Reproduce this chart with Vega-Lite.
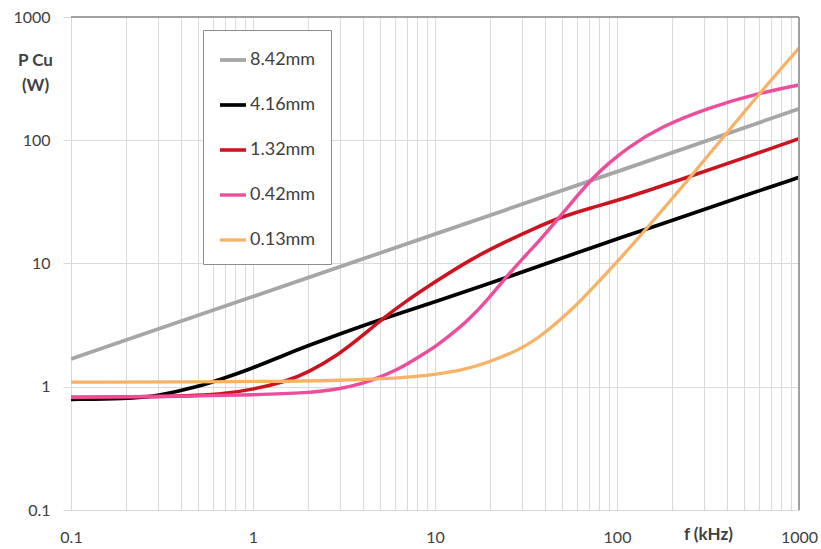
{
  "$schema": "https://vega.github.io/schema/vega-lite/v6.json",
  "autosize": "none",
  "width": 728,
  "height": 493,
  "padding": {"left": 71, "top": 17, "right": 22, "bottom": 39},
  "background": "white",
  "config": {
    "view": {"stroke": null},
    "font": "Lato",
    "axis": {"labelFont": "Lato", "titleFont": "Lato", "labelColor": "#404040", "titleColor": "#404040", "gridColor": "#d9d9d9", "gridWidth": 1}
  },
  "data": {
    "values": [
      {"wire": "8.42mm", "f": 0.1, "p": 1.68},
      {"wire": "8.42mm", "f": 1, "p": 5.4},
      {"wire": "8.42mm", "f": 10, "p": 17.3},
      {"wire": "8.42mm", "f": 100, "p": 55.5},
      {"wire": "8.42mm", "f": 1000, "p": 180},

      {"wire": "4.16mm", "f": 0.1, "p": 0.79},
      {"wire": "4.16mm", "f": 0.2, "p": 0.8},
      {"wire": "4.16mm", "f": 0.3, "p": 0.84},
      {"wire": "4.16mm", "f": 0.5, "p": 1.0},
      {"wire": "4.16mm", "f": 0.7, "p": 1.18},
      {"wire": "4.16mm", "f": 1, "p": 1.42},
      {"wire": "4.16mm", "f": 1.5, "p": 1.82},
      {"wire": "4.16mm", "f": 2, "p": 2.15},
      {"wire": "4.16mm", "f": 3, "p": 2.68},
      {"wire": "4.16mm", "f": 5, "p": 3.5},
      {"wire": "4.16mm", "f": 10, "p": 4.9},
      {"wire": "4.16mm", "f": 25, "p": 7.7},
      {"wire": "4.16mm", "f": 55, "p": 11.7},
      {"wire": "4.16mm", "f": 100, "p": 15.8},
      {"wire": "4.16mm", "f": 250, "p": 25},
      {"wire": "4.16mm", "f": 500, "p": 35.5},
      {"wire": "4.16mm", "f": 1000, "p": 50},

      {"wire": "1.32mm", "f": 0.1, "p": 0.82},
      {"wire": "1.32mm", "f": 0.3, "p": 0.83},
      {"wire": "1.32mm", "f": 0.5, "p": 0.85},
      {"wire": "1.32mm", "f": 0.7, "p": 0.88},
      {"wire": "1.32mm", "f": 1, "p": 0.95},
      {"wire": "1.32mm", "f": 1.5, "p": 1.1},
      {"wire": "1.32mm", "f": 2, "p": 1.3},
      {"wire": "1.32mm", "f": 3, "p": 1.85},
      {"wire": "1.32mm", "f": 4, "p": 2.6},
      {"wire": "1.32mm", "f": 5.2, "p": 3.6},
      {"wire": "1.32mm", "f": 7, "p": 5.0},
      {"wire": "1.32mm", "f": 10, "p": 7.1},
      {"wire": "1.32mm", "f": 16, "p": 11},
      {"wire": "1.32mm", "f": 25, "p": 15.3},
      {"wire": "1.32mm", "f": 35, "p": 19.2},
      {"wire": "1.32mm", "f": 48, "p": 23.5},
      {"wire": "1.32mm", "f": 70, "p": 28},
      {"wire": "1.32mm", "f": 113, "p": 34},
      {"wire": "1.32mm", "f": 243, "p": 50},
      {"wire": "1.32mm", "f": 500, "p": 72},
      {"wire": "1.32mm", "f": 1000, "p": 103},

      {"wire": "0.42mm", "f": 0.1, "p": 0.82},
      {"wire": "0.42mm", "f": 0.5, "p": 0.84},
      {"wire": "0.42mm", "f": 1, "p": 0.86},
      {"wire": "0.42mm", "f": 2, "p": 0.89},
      {"wire": "0.42mm", "f": 3, "p": 0.96},
      {"wire": "0.42mm", "f": 4, "p": 1.06},
      {"wire": "0.42mm", "f": 5, "p": 1.2},
      {"wire": "0.42mm", "f": 6.5, "p": 1.42},
      {"wire": "0.42mm", "f": 8.3, "p": 1.78},
      {"wire": "0.42mm", "f": 10, "p": 2.1},
      {"wire": "0.42mm", "f": 12.6, "p": 2.75},
      {"wire": "0.42mm", "f": 15, "p": 3.4},
      {"wire": "0.42mm", "f": 19.3, "p": 5.0},
      {"wire": "0.42mm", "f": 24.3, "p": 7.6},
      {"wire": "0.42mm", "f": 30, "p": 10.8},
      {"wire": "0.42mm", "f": 37.8, "p": 15.5},
      {"wire": "0.42mm", "f": 48.6, "p": 24},
      {"wire": "0.42mm", "f": 60, "p": 35},
      {"wire": "0.42mm", "f": 74, "p": 50},
      {"wire": "0.42mm", "f": 90, "p": 65},
      {"wire": "0.42mm", "f": 113, "p": 86},
      {"wire": "0.42mm", "f": 172, "p": 128},
      {"wire": "0.42mm", "f": 324, "p": 186},
      {"wire": "0.42mm", "f": 611, "p": 242},
      {"wire": "0.42mm", "f": 1000, "p": 281},

      {"wire": "0.13mm", "f": 0.1, "p": 1.09},
      {"wire": "0.13mm", "f": 1, "p": 1.1},
      {"wire": "0.13mm", "f": 3, "p": 1.12},
      {"wire": "0.13mm", "f": 8.3, "p": 1.2},
      {"wire": "0.13mm", "f": 14, "p": 1.35},
      {"wire": "0.13mm", "f": 19.3, "p": 1.56},
      {"wire": "0.13mm", "f": 29.3, "p": 2.0},
      {"wire": "0.13mm", "f": 37, "p": 2.5},
      {"wire": "0.13mm", "f": 44.5, "p": 3.1},
      {"wire": "0.13mm", "f": 55, "p": 4.1},
      {"wire": "0.13mm", "f": 64, "p": 5.1},
      {"wire": "0.13mm", "f": 95, "p": 9.4},
      {"wire": "0.13mm", "f": 150, "p": 20.2},
      {"wire": "0.13mm", "f": 250, "p": 49},
      {"wire": "0.13mm", "f": 400, "p": 114},
      {"wire": "0.13mm", "f": 600, "p": 235},
      {"wire": "0.13mm", "f": 1000, "p": 560}
    ]
  },
  "layer": [
    {
      "mark": {"type": "line", "interpolate": "basis", "clip": true},
      "encoding": {
        "x": {
          "field": "f", "type": "quantitative",
          "scale": {"type": "log", "domain": [0.1, 1000], "nice": false},
          "axis": {
            "values": [0.1,0.2,0.3,0.4,0.5,0.6,0.7,0.8,0.9,1,2,3,4,5,6,7,8,9,10,20,30,40,50,60,70,80,90,100,200,300,400,500,600,700,800,900,1000],
            "format": "~g",
            "labelExpr": "(datum.value == 0.1 || datum.value == 1 || datum.value == 10 || datum.value == 100 || datum.value == 1000) ? datum.label : ''",
            "labelFontSize": 16,
            "labelPadding": 19,
            "ticks": false,
            "domain": false,
            "grid": true,
            "title": "f (kHz)",
            "titleFontSize": 17,
            "titleFontWeight": "bold",
            "titleX": 637,
            "titleY": 24,
            "titleAlign": "center",
            "titleBaseline": "middle",
            "labelFlush": false,
            "labelOverlap": false
          }
        },
        "y": {
          "field": "p", "type": "quantitative",
          "scale": {"type": "log", "domain": [0.1, 1000], "nice": false},
          "axis": {
            "values": [0.1, 1, 10, 100, 1000],
            "format": "~g",
            "labelFontSize": 16,
            "labelPadding": 13,
            "tickSize": 8,
            "tickColor": "#d9d9d9",
            "domain": false,
            "grid": true,
            "title": ["P Cu", "(W)"],
            "titleFontSize": 17,
            "titleFontWeight": "bold",
            "titleAngle": 0,
            "titleX": -36,
            "titleY": 35,
            "titleAlign": "center",
            "titleBaseline": "top",
            "titleLineHeight": 25,
            "labelFlush": false
          }
        },
        "color": {
          "field": "wire", "type": "nominal",
          "scale": {"domain": ["8.42mm", "4.16mm", "1.32mm", "0.42mm", "0.13mm"], "range": ["#a6a6a6", "#000000", "#cc1420", "#ee4d9b", "#f7b266"]},
          "legend": {
            "title": null,
            "orient": "none",
            "legendX": 132,
            "legendY": 13,
            "direction": "vertical",
            "symbolType": "stroke",
            "symbolSize": 676,
            "labelFontSize": 18,
            "labelColor": "#404040",
            "labelOffset": 2,
            "rowPadding": 21,
            "padding": 15,
            "fillColor": "white",
            "strokeColor": "#8c8c8c"
          }
        },
        "strokeWidth": {
          "field": "wire", "type": "nominal",
          "scale": {"domain": ["8.42mm", "4.16mm", "1.32mm", "0.42mm", "0.13mm"], "range": [3.8, 3.3, 2.3, 1.6, 1.4]},
          "legend": {
            "title": null,
            "orient": "none",
            "legendX": 132,
            "legendY": 13,
            "direction": "vertical",
            "symbolType": "stroke",
            "symbolSize": 676,
            "labelFontSize": 18,
            "labelColor": "#404040",
            "labelOffset": 2,
            "rowPadding": 21,
            "padding": 15,
            "fillColor": "white",
            "strokeColor": "#8c8c8c"
          }
        },
        "order": {"field": "f", "type": "quantitative"}
      }
    },
    {
      "mark": {"type": "rule", "color": "#a0a0a0", "strokeWidth": 1.5},
      "encoding": {"y": {"datum": 1000, "type": "quantitative"}}
    },
    {
      "mark": {"type": "rule", "color": "#a0a0a0", "strokeWidth": 1.5},
      "encoding": {"x": {"datum": 1000, "type": "quantitative"}}
    }
  ]
}
